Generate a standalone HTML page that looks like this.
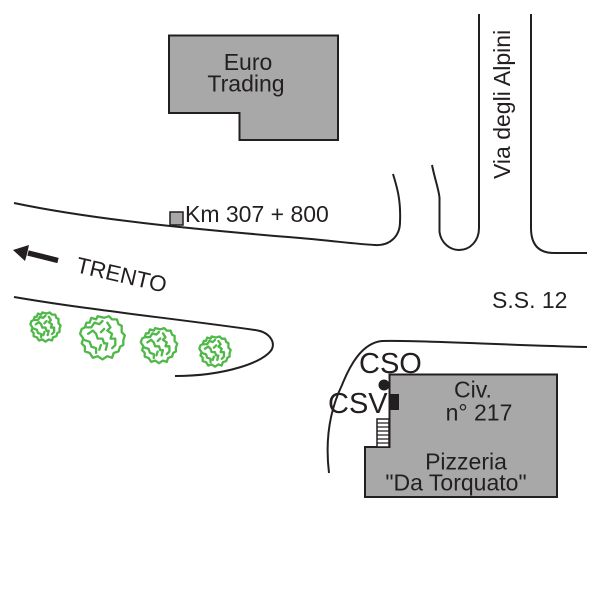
<!DOCTYPE html>
<html><head><meta charset="utf-8"><style>
html,body{margin:0;padding:0;background:#fff;width:600px;height:600px;overflow:hidden}
svg{display:block}
text{font-family:"Liberation Sans",sans-serif;fill:#231f20}
#tree path{vector-effect:non-scaling-stroke}
</style></head><body>
<svg width="600" height="600" viewBox="0 0 600 600" xmlns="http://www.w3.org/2000/svg">
<defs>
<g id="tree" fill="none" stroke="#4fb848" stroke-width="2.300" stroke-linejoin="round" stroke-linecap="round">
<path d="M-13,-5 L-11,-6 L-10,-9 L-8,-9 L-7,-12 L-4,-11 L-3,-13 L1,-12 L4,-13 L6,-11 L9,-11 L10,-8 L12,-7 L12,-3 L14,-1 L13,2 L13,5 L11,6 L10,9 L7,10 L6,13 L3,12 L0,14 L-3,12 L-6,13 L-8,10 L-11,9 L-11,6 L-13,4 L-12,1 L-14,-2 Z"/>
<path d="M-10,-6 L-7,-6 L-5,-9 L-2,-8 L0,-10 M-9,-2 L-6,-4 L-4,-2 L-3,1 L0,1 L1,4 L3,4 L2,8 M3,-9 L5,-6 L3,-4 L6,-2 L5,1 L8,1 L8,5 L6,7 M-11,2 L-8,3 L-7,6 L-4,7 L-4,10 M-1,5 L-2,8 M1,-5 L-1,-3"/>
</g>
</defs>
<path d="M169,35.500H338V140H239.500V113H169Z" fill="#a8a8a8" stroke="#231f20" stroke-width="2"/>
<text x="248" y="70" font-size="23" text-anchor="middle">Euro</text>
<text x="246" y="91.500" font-size="23" text-anchor="middle">Trading</text>
<g fill="none" stroke="#231f20" stroke-width="2">
<path d="M14,203C90,219 190,229 300,238C335,241 355,244 375,245C390,246 400,236 400,222C401,200 397,187 393,174"/>
<path d="M432,165C435,180 439,190 439.500,198V232C441,243 450,250 459,250C470,250 479,241 479,228V14"/>
<path d="M531,14V228C531,246 540,253 554,253H587"/>
<path d="M14,297C90,310 170,318 255,330C270,332 275,342 272,349C265,362 225,376 175,376"/>
<path d="M329,473C325,440 330,410 342,385C350,365 362,343 382,341C420,340 500,345 587,347"/>
</g>
<rect x="170" y="212" width="13" height="13" fill="#a8a8a8" stroke="#231f20" stroke-width="1.500"/>
<text x="185" y="222" font-size="23">Km 307 + 800</text>
<text transform="translate(510,179) rotate(-90)" font-size="23">Via degli Alpini</text>
<path d="M58,260.500L28,253" stroke="#231f20" stroke-width="5.500"/>
<path d="M13,250L29,245L27,254L25,261Z" fill="#231f20"/>
<text transform="translate(75,272) rotate(13)" font-size="22.500">TRENTO</text>
<text x="492" y="308" font-size="23">S.S. 12</text>
<use href="#tree" transform="translate(45.500,326.500) scale(1.080)"/>
<use href="#tree" transform="translate(102.500,337) scale(1.600)"/>
<use href="#tree" transform="translate(159,345) scale(1.300)"/>
<use href="#tree" transform="translate(215,351) scale(1.120)"/>
<path d="M389.500,374.500H557V497H365V447H389.500Z" fill="#a8a8a8" stroke="#231f20" stroke-width="2"/>
<path d="M377,419H389V447H377Z" fill="#fff" stroke="#231f20" stroke-width="1.500"/>
<path d="M377,423H389M377,427H389M377,431H389M377,435H389M377,439H389M377,443H389" stroke="#231f20" stroke-width="1.300"/>
<circle cx="384" cy="385" r="5.500" fill="#231f20"/>
<rect x="389" y="394" width="10" height="16" fill="#231f20"/>
<text x="359" y="373" font-size="29">CSO</text>
<text x="328" y="413" font-size="29">CSV</text>
<text x="473" y="397.500" font-size="23" text-anchor="middle">Civ.</text>
<text x="479" y="420.500" font-size="23" text-anchor="middle">n° 217</text>
<text x="466" y="469.500" font-size="23" text-anchor="middle">Pizzeria</text>
<text x="456" y="490.500" font-size="23" text-anchor="middle">"Da Torquato"</text>
</svg>
</body></html>
